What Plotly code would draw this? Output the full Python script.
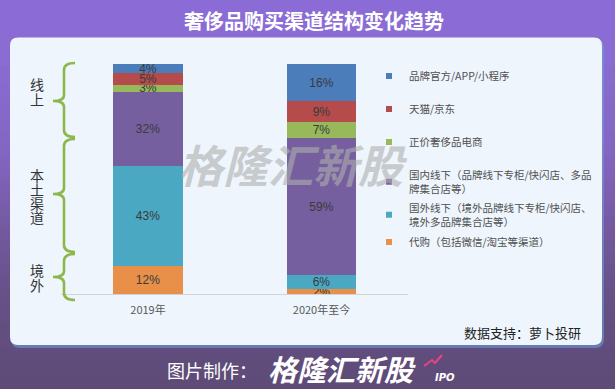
import plotly.graph_objects as go

W, H = 615, 389

# ---------------- data ----------------
categories = ["2019年", "2020年至今"]
series_names = [
    "代购（包括微信/淘宝等渠道）",
    "国外线下（境外品牌线下专柜/快闪店、<br>境外多品牌集合店等）",
    "国内线下（品牌线下专柜/快闪店、多品<br>牌集合店等）",
    "正价奢侈品电商",
    "天猫/京东",
    "品牌官方/APP/小程序",
]
series_values = [
    [12, 2],
    [43, 6],
    [32, 59],
    [3, 7],
    [5, 9],
    [4, 16],
]
series_colors = ["#e8904a", "#4aa8c2", "#765f9f", "#97b95b", "#b54c4b", "#4a7dba"]
group_labels = [("线上", 84, 15), ("本土渠道", 175, 14), ("境外", 270, 15)]

def X(px):
    return px / W

def Y(py):
    return 1 - py / H

fig = go.Figure()

# bars
for name, vals, col in zip(series_names, series_values, series_colors):
    fig.add_trace(go.Bar(
        x=categories, y=vals, name=name, width=0.4,
        marker=dict(color=col, line=dict(width=0)),
        text=[f"{v}%" for v in vals],
        textposition="inside", insidetextanchor="middle", textangle=0,
        textfont=dict(family="Liberation Sans, Arial", size=12, color="#3a3a3a"),
        showlegend=False, hoverinfo="skip",
    ))

# legend entries (top to bottom in the reference)
legend_rows_y = [76, 109, 142, 182, 215, 242]
order = [5, 4, 3, 2, 1, 0]
sym_x = 389
for i, idx in enumerate(order):
    lname = "legend" if i == 0 else f"legend{i+1}"
    fig.add_trace(go.Scatter(
        x=[None], y=[None], mode="markers", name=series_names[idx],
        marker=dict(symbol="square", size=6, color=series_colors[idx]),
        legend=lname, showlegend=True, hoverinfo="skip",
    ))
    fig.update_layout({lname: dict(
        x=X(sym_x - 20), y=Y(legend_rows_y[i]), xanchor="left", yanchor="middle",
        bgcolor="rgba(0,0,0,0)", borderwidth=0, valign="middle",
        font=dict(family="Noto Sans CJK SC", size=10.5, color="#505050"),
        itemclick=False, itemdoubleclick=False,
    )})

# ---------------- background shapes ----------------
shapes = []
stops = [(0, (0x8b, 0x6b, 0xd6)), (60, (0x8a, 0x6c, 0xd2)), (150, (0x84, 0x65, 0xc3)),
         (230, (0x74, 0x59, 0x9f)), (300, (0x66, 0x50, 0x85)), (389, (0x5e, 0x4b, 0x77))]

def col_at(y):
    for (y0, c0), (y1, c1) in zip(stops[:-1], stops[1:]):
        if y0 <= y <= y1:
            t = (y - y0) / (y1 - y0)
            return "rgb(%d,%d,%d)" % tuple(round(a + (b - a) * t) for a, b in zip(c0, c1))
    return "rgb(94,75,119)"

step = 6
for y0 in range(0, H, step):
    shapes.append(dict(type="rect", xref="paper", yref="paper", layer="below",
                       x0=0, x1=1, y0=Y(y0 + step + 0.5), y1=Y(y0),
                       fillcolor=col_at(y0 + step / 2), line=dict(width=0)))

def rrect(x0, y0, x1, y1, r):
    return (f"M {X(x0+r)},{Y(y0)} L {X(x1-r)},{Y(y0)} Q {X(x1)},{Y(y0)} {X(x1)},{Y(y0+r)} "
            f"L {X(x1)},{Y(y1-r)} Q {X(x1)},{Y(y1)} {X(x1-r)},{Y(y1)} "
            f"L {X(x0+r)},{Y(y1)} Q {X(x0)},{Y(y1)} {X(x0)},{Y(y1-r)} "
            f"L {X(x0)},{Y(y0+r)} Q {X(x0)},{Y(y0)} {X(x0+r)},{Y(y0)} Z")

# panel shadow + panel
shapes.append(dict(type="path", xref="paper", yref="paper", layer="below",
                   path=rrect(11, 39, 604, 348, 9), fillcolor="rgba(110,160,220,0.55)", line=dict(width=0)))
shapes.append(dict(type="path", xref="paper", yref="paper", layer="below",
                   path=rrect(10, 37.5, 602, 345, 8), fillcolor="#eef5fd", line=dict(width=0)))

# curly braces
def brace(yt, ym, yb, xv=64, xe=75, xt=53):
    return (f"M {X(xe)},{Y(yt)} Q {X(xv)},{Y(yt)} {X(xv)},{Y(yt+7)} "
            f"L {X(xv)},{Y(ym-6)} Q {X(xv)},{Y(ym)} {X(xt)},{Y(ym)} "
            f"Q {X(xv)},{Y(ym)} {X(xv)},{Y(ym+6)} "
            f"L {X(xv)},{Y(yb-7)} Q {X(xv)},{Y(yb)} {X(xe)},{Y(yb)}")

for yt, ym, yb in [(63, 101, 137), (139, 194, 252), (254, 277, 300)]:
    shapes.append(dict(type="path", xref="paper", yref="paper", layer="above",
                       path=brace(yt, ym, yb), line=dict(color="#8cb84b", width=2.6)))

# ---------------- annotations ----------------
def note(text, x, y, size, color, family="Noto Sans CJK SC", xanchor="center"):
    return dict(text=text, x=X(x), y=Y(y), xref="paper", yref="paper", showarrow=False,
                xanchor=xanchor, yanchor="middle",
                font=dict(family=family, size=size, color=color))

ann = []
ann.append(note("<b>奢侈品购买渠道结构变化趋势</b>", 314, 21, 20, "white"))
for label, ystart, step_px in group_labels:
    for k, ch in enumerate(label):
        ann.append(note(ch, 37, ystart + k * step_px, 14, "#333333"))
# watermark
ann.append(note("<b><i>格隆汇新股</i></b>", 293, 163, 45, "rgba(175,175,175,0.6)"))
ann.append(note("数据支持：萝卜投研", 583, 332, 13, "#222222", xanchor="right"))
ann.append(note("图片制作：", 165, 370, 18, "white", xanchor="left"))
ann.append(note("<b><i>格隆汇新股</i></b>", 266, 368, 29, "white", xanchor="left"))
ann.append(note("<b><i>IPO</i></b>", 433, 377, 10, "white", family="DejaVu Sans", xanchor="left"))
# small pink arrow next to logo
shapes.append(dict(type="path", xref="paper", yref="paper", layer="above",
                   path=f"M {X(424)},{Y(366)} L {X(432)},{Y(360)} L {X(435)},{Y(363)} L {X(442)},{Y(355)}",
                   line=dict(color="#e8457d", width=2)))

fig.update_layout(
    width=W, height=H, template="none",
    margin=dict(l=0, r=0, t=0, b=0),
    paper_bgcolor="#5e4b77", plot_bgcolor="rgba(0,0,0,0)",
    barmode="stack", bargap=0.6,
    shapes=shapes, annotations=ann,
    xaxis=dict(domain=[X(61.25), X(408.25)], range=[-0.5, 1.5], type="category",
               showline=True, linecolor="#d0d3d8", linewidth=1, showgrid=False, zeroline=False,
               ticks="", automargin=False, ticklabelstandoff=6,
               tickfont=dict(family="Noto Sans CJK SC", size=11, color="#595959")),
    yaxis=dict(domain=[Y(294), Y(64)], range=[0, 99], visible=False, showgrid=False,
               zeroline=False, automargin=False),
    uniformtext=dict(mode="show", minsize=12),
    hovermode=False,
)

fig.write_html("out.html", config={"displayModeBar": False},
               post_script="document.body.style.margin='0';document.body.style.overflow='hidden';")
